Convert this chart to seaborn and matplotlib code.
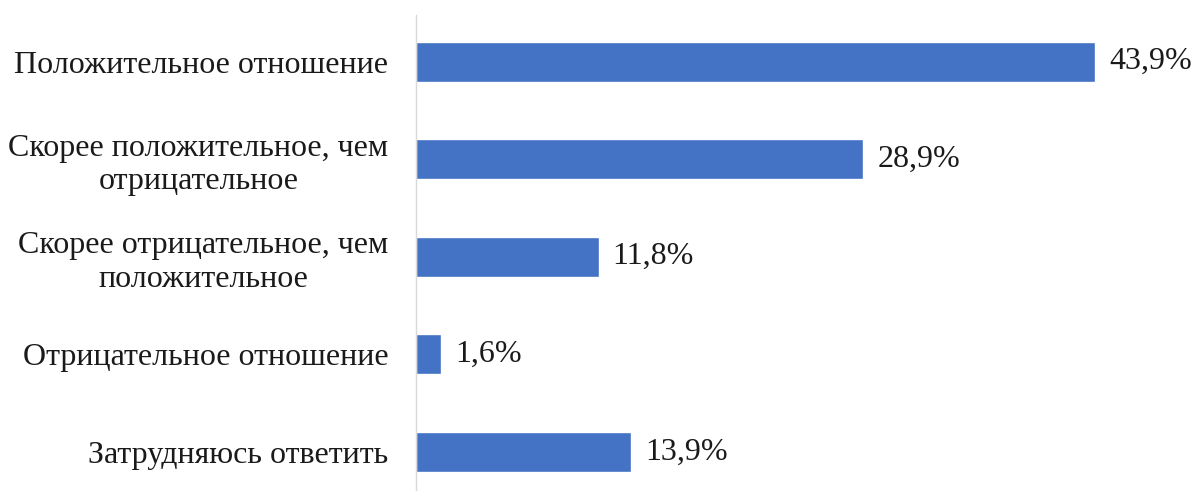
import matplotlib
matplotlib.use("Agg")
import matplotlib.pyplot as plt
import seaborn as sns
import pandas as pd

# -----------------------------------------------------
# DATA
# -----------------------------------------------------
categories = [
    "Положительное отношение",
    "Скорее положительное, чем\nотрицательное",
    "Скорее отрицательное, чем\nположительное",
    "Отрицательное отношение",
    "Затрудняюсь ответить",
]
values = [43.9, 28.9, 11.8, 1.6, 13.9]

df = pd.DataFrame({"category": categories, "value": values})

# -----------------------------------------------------
# PLOT
# -----------------------------------------------------
sns.set_style("white")
plt.rcParams["font.family"] = ["Liberation Serif", "DejaVu Serif"]

fig = plt.figure(figsize=(11.96, 4.93), dpi=100)
ax = fig.add_axes([0.348, 0.006, 0.652, 0.964])

sns.barplot(data=df, x="value", y="category", orient="h",
            color="#4472C4", saturation=1, width=0.41, ax=ax)

labels = [f"{v:.1f}%".replace(".", ",") for v in values]
ax.bar_label(ax.containers[0], labels=labels, padding=10, fontsize=23,
             color="#1a1a1a")

ax.set_xlim(0, 50.4)
ax.set_ylim(4.39, -0.48)
ax.set_xlabel("")
ax.set_ylabel("")
ax.set_xticks([])
ax.tick_params(axis="y", length=0, pad=20, labelsize=23, labelcolor="#1a1a1a")
for lbl in ax.get_yticklabels():
    lbl.set_multialignment("center")
    lbl.set_linespacing(1.2)

for s in ["top", "right", "bottom"]:
    ax.spines[s].set_visible(False)
ax.spines["left"].set_color("#D9D9D9")
ax.spines["left"].set_linewidth(1)

fig.savefig("out.png", dpi=100)
